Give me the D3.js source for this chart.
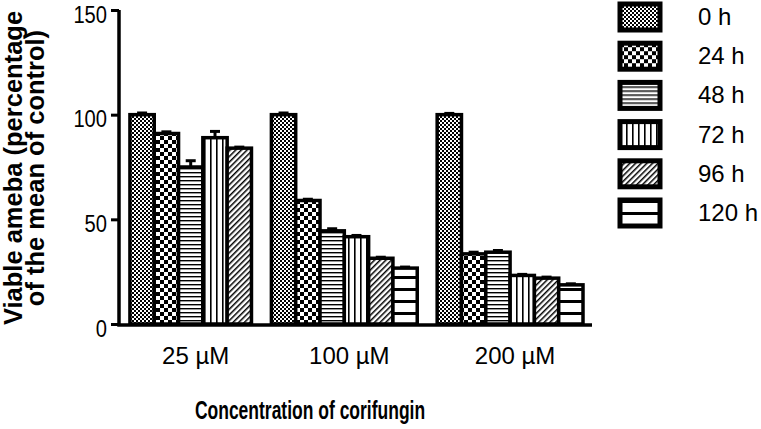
<!DOCTYPE html>
<meta charset='utf-8'>
<script src='https://d3js.org/d3.v7.min.js'></script>
<style>
body { margin: 0; background: #fff; }
text { font-family: 'Liberation Sans', Arial, Helvetica, sans-serif; }
</style>
<body>
<script>
var width = 761,
    height = 429;

// data
var groups = ['25 \u00b5M', '100 \u00b5M', '200 \u00b5M'];
var times = ['0 h', '24 h', '48 h', '72 h', '96 h', '120 h'];
var mean0 = [100, 100, 100];
var mean24 = [91, 59, 33.5];
var mean48 = [75, 44.5, 34.3];
var mean72 = [89, 41.7, 23.2];
var mean96 = [84, 31.4, 21.9];
var mean120 = [null, 26.7, 18.7];
var sem0 = [0.8, 0.8, 0.6];
var sem24 = [0.8, 0.6, 0.8];
var sem48 = [3, 1, 0.8];
var sem72 = [3, 0.6, 0.5];
var sem96 = [0.5, 0.5, 0.5];
var sem120 = [null, 0.5, 0.5];
var yTicks = [0, 50, 100, 150];

var means = [mean0, mean24, mean48, mean72, mean96, mean120];
var sems = [sem0, sem24, sem48, sem72, sem96, sem120];

var svg = d3.select('body').append('svg').attr('width', width).attr('height', height);
var defs = svg.append('defs');

// hatch patterns, one per time point
function pat(id, w, h, build, tf) {
  var p = defs.append('pattern').attr('id', id)
    .attr('patternUnits', 'userSpaceOnUse')
    .attr('width', w).attr('height', h);
  if (tf) p.attr('patternTransform', tf);
  p.append('rect').attr('width', w).attr('height', h).attr('fill', '#fff');
  build(p);
}
pat('p0', 4, 4, function(p) {
  p.append('rect').attr('width', 2).attr('height', 2).attr('fill', '#000');
  p.append('rect').attr('x', 2).attr('y', 2).attr('width', 2).attr('height', 2).attr('fill', '#000');
});
pat('p1', 8, 8, function(p) {
  p.append('rect').attr('width', 4).attr('height', 4).attr('fill', '#000');
  p.append('rect').attr('x', 4).attr('y', 4).attr('width', 4).attr('height', 4).attr('fill', '#000');
});
pat('p2', 4, 4, function(p) {
  p.append('rect').attr('width', 4).attr('height', 1.4).attr('fill', '#000');
});
pat('p3', 6, 6, function(p) {
  p.append('rect').attr('width', 1.6).attr('height', 6).attr('fill', '#000');
});
pat('p4', 4, 4, function(p) {
  p.append('rect').attr('width', 1.5).attr('height', 4).attr('fill', '#000');
}, 'rotate(45)');
pat('p5', 12, 12, function(p) {
  p.append('rect').attr('width', 12).attr('height', 3).attr('fill', '#000');
});

var x0 = 119, x1 = 592, y0 = 324, y1 = 10;
var y = d3.scaleLinear().domain([0, 150]).range([y0, y1]);

// groups are packed: bars touch, fixed gap between groups, width depends on bar count
var padL = 0.45, gap = 0.82, padR = 0.37;
var bars = [], labels = [];
var u = padL;
groups.forEach(function(g, gi) {
  var start = u;
  times.forEach(function(t, ti) {
    if (means[ti][gi] == null) return;
    bars.push({group: g, time: ti, u: u, v: means[ti][gi], e: sems[ti][gi]});
    u += 1;
  });
  labels.push({name: g, u: (start + u) / 2});
  u += gap;
});
u = u - gap + padR;
var x = d3.scaleLinear().domain([0, u]).range([x0, x1]);
var bw = x(1) - x(0);

var chart = svg.append('g');

chart.selectAll('.bar').data(bars).enter().append('rect')
  .attr('class', 'bar')
  .attr('x', function(d) { return x(d.u); })
  .attr('y', function(d) { return y(d.v); })
  .attr('width', bw)
  .attr('height', function(d) { return y(0) - y(d.v); })
  .attr('fill', function(d) { return 'url(#p' + d.time + ')'; })
  .attr('stroke', '#000')
  .attr('stroke-width', 3.5);

// error bars (upper half only)
var err = chart.selectAll('.err').data(bars).enter().append('g').attr('class', 'err')
  .attr('stroke', '#000').attr('stroke-width', 3);
err.append('line')
  .attr('x1', function(d) { return x(d.u + 0.5); })
  .attr('x2', function(d) { return x(d.u + 0.5); })
  .attr('y1', function(d) { return y(d.v); })
  .attr('y2', function(d) { return y(d.v + d.e); });
err.append('line')
  .attr('x1', function(d) { return x(d.u + 0.5) - 5; })
  .attr('x2', function(d) { return x(d.u + 0.5) + 5; })
  .attr('y1', function(d) { return y(d.v + d.e); })
  .attr('y2', function(d) { return y(d.v + d.e); });

// axes
var yAxis = svg.append('g').attr('transform', 'translate(' + x0 + ',0)')
  .call(d3.axisLeft(y).tickValues(yTicks).tickSize(8).tickSizeOuter(0));
yAxis.select('.domain').attr('stroke-width', 3.5).attr('d', 'M0,' + (y0 + 1.75) + 'V' + y1);
yAxis.selectAll('.tick line').attr('stroke-width', 3);
yAxis.selectAll('.tick text')
  .attr('font-size', 24).attr('fill', '#000')
  .attr('font-family', "'Liberation Sans', Arial, sans-serif")
  .attr('x', -12 / 0.84)
  .attr('dy', '0.5em')
  .attr('transform', 'scale(0.84,1)');

svg.append('line')
  .attr('x1', x0 - 1.75).attr('x2', x1)
  .attr('y1', y0 + 1).attr('y2', y0 + 1)
  .attr('stroke', '#000').attr('stroke-width', 3.5);

svg.selectAll('.glabel').data(labels).enter().append('text')
  .attr('class', 'glabel')
  .attr('transform', function(d) { return 'translate(' + (x(d.u) + 5) + ',364)'; })
  .attr('text-anchor', 'middle')
  .attr('font-size', 24)
  .text(function(d) { return d.name; });

svg.append('text')
  .attr('transform', 'translate(310,419) scale(0.7,1)')
  .attr('text-anchor', 'middle')
  .attr('font-size', 25).attr('font-weight', 'bold')
  .text('Concentration of corifungin');

var yt = svg.append('text')
  .attr('transform', 'translate(22,168) rotate(-90)')
  .attr('text-anchor', 'middle')
  .attr('font-size', 25.5).attr('font-weight', 'bold');
yt.append('tspan').attr('x', 0).attr('y', 0).text('Viable ameba (percentage');
yt.append('tspan').attr('x', 0).attr('y', 22).text('of the mean of control)');

// legend
var leg = svg.append('g').selectAll('g').data(times).enter().append('g')
  .attr('transform', function(d, i) { return 'translate(620,' + (4 + i * 39.2) + ')'; });
leg.append('rect')
  .attr('width', 40).attr('height', 26)
  .attr('fill', function(d, i) { return 'url(#p' + i + ')'; })
  .attr('stroke', '#000').attr('stroke-width', 5);
leg.append('text')
  .attr('x', 78).attr('y', 21)
  .attr('font-size', 24)
  .text(function(d) { return d; });
</script>
